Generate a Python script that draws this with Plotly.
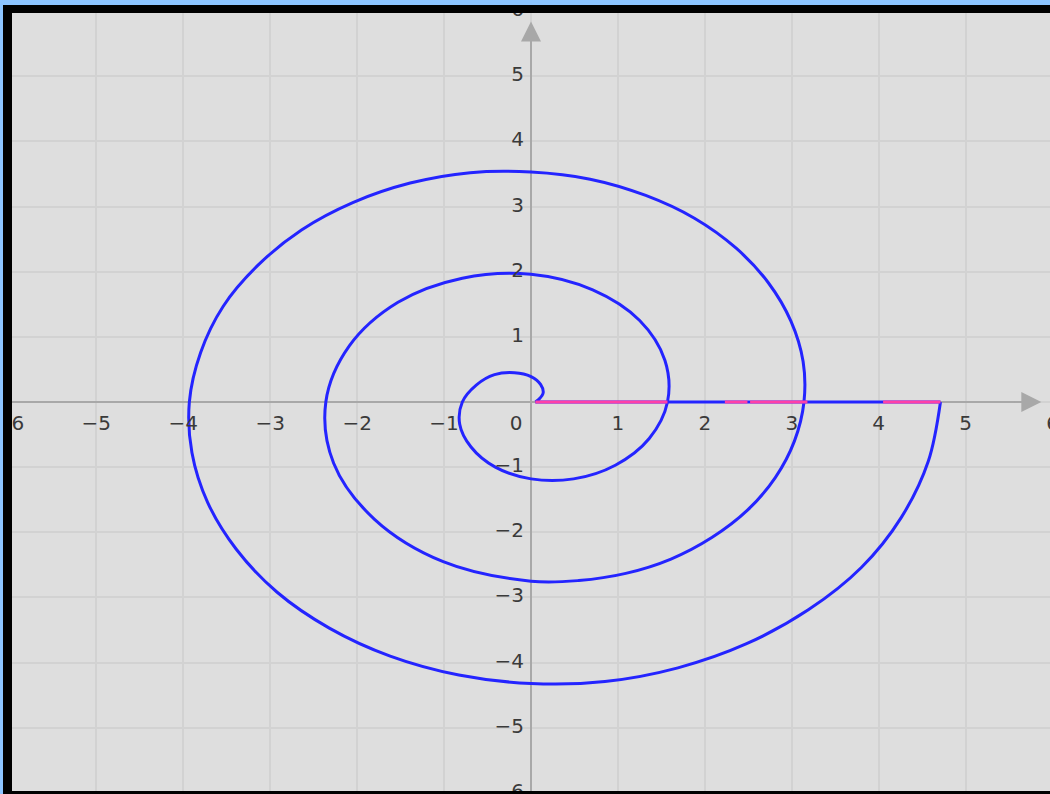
import plotly.graph_objects as go

# Spiral points (every 1/16 turn, every 1/32 turn on the outer part)
spiral_x = [0.05, 0.09, 0.14, 0.11, 0.00, -0.19, -0.42, -0.63, -0.79, -0.82, -0.69, -0.41,
            0.00, 0.49, 0.97, 1.36, 1.57, 1.54, 1.25, 0.71, 0.00, -0.79, -1.53, -2.09,
            -2.36, -2.27, -1.80, -1.01,
            0.00, 0.55, 1.09, 1.61, 2.08, 2.49, 2.81, 3.03,
            3.14, 3.13, 2.99, 2.73, 2.36, 1.88, 1.32, 0.68,
            0.00, -0.70, -1.39, -2.05, -2.64, -3.14, -3.54, -3.80,
            -3.93, -3.90, -3.72, -3.39, -2.92, -2.32, -1.62, -0.83,
            0.00, 0.85, 1.69, 2.48, 3.19, 3.80, 4.26, 4.57, 4.71]
spiral_y = [0.00, 0.04, 0.14, 0.27, 0.39, 0.45, 0.42, 0.26, 0.00, -0.34, -0.69, -1.00,
            -1.18, -1.18, -0.97, -0.56, 0.00, 0.64, 1.25, 1.72, 1.96, 1.90, 1.53, 0.86,
            0.00, -0.94, -1.80, -2.45,
            -2.75, -2.74, -2.63, -2.41, -2.08, -1.66, -1.16, -0.60,
            0.00, 0.62, 1.24, 1.83, 2.36, 2.82, 3.17, 3.42,
            3.53, 3.52, 3.36, 3.06, 2.64, 2.10, 1.47, 0.76,
            0.00, -0.78, -1.54, -2.26, -2.92, -3.47, -3.90, -4.19,
            -4.32, -4.29, -4.08, -3.71, -3.19, -2.54, -1.77, -0.91, 0.00]

# Segment lying on the x axis (blue underneath, pink pieces on top)
base_seg_x = [0.05, 4.71]
base_seg_y = [0.0, 0.0]
pink_seg_x = [0.05, 1.57, None, 2.23, 2.49, None, 2.52, 3.18, None, 4.05, 4.71]
pink_seg_y = [0.0, 0.0, None, 0.0, 0.0, None, 0.0, 0.0, None, 0.0, 0.0]

# Tick labels
tick_vals = [-6, -5, -4, -3, -2, -1, 1, 2, 3, 4, 5, 6]
tick_text = ["−6", "−5", "−4", "−3", "−2", "−1", "1", "2", "3", "4", "5", "6"]

X_RANGE = [-5.97, 5.97]
Y_RANGE = [-5.97, 5.97]

fig = go.Figure()

fig.add_trace(go.Scatter(x=spiral_x, y=spiral_y, mode="lines",
                         line=dict(color="#2424ff", width=3, shape="spline", smoothing=1.0),
                         hoverinfo="skip"))
fig.add_trace(go.Scatter(x=base_seg_x, y=base_seg_y, mode="lines",
                         line=dict(color="#2424ff", width=3), hoverinfo="skip"))
fig.add_trace(go.Scatter(x=pink_seg_x, y=pink_seg_y, mode="lines",
                         line=dict(color="#ff40a8", width=3), connectgaps=False,
                         hoverinfo="skip"))

label_font = dict(family="DejaVu Sans", size=20, color="#3a3a3a")

# x tick labels (below the x axis)
fig.add_trace(go.Scatter(x=tick_vals + [-0.17], y=[-0.36] * len(tick_vals) + [-0.36],
                         mode="text", text=tick_text + ["0"], textfont=label_font,
                         textposition="middle center", hoverinfo="skip", cliponaxis=True))
# y tick labels (left of the y axis)
fig.add_trace(go.Scatter(x=[-0.08] * len(tick_vals), y=tick_vals,
                         mode="text", text=tick_text, textfont=label_font,
                         textposition="middle left", hoverinfo="skip", cliponaxis=True))

shapes = [
    # axis lines
    dict(type="line", xref="x", yref="y", x0=X_RANGE[0], x1=5.6, y0=0, y1=0,
         line=dict(color="#a8a8a8", width=2), layer="between"),
    dict(type="line", xref="x", yref="y", x0=0, x1=0, y0=Y_RANGE[0], y1=5.5,
         line=dict(color="#a8a8a8", width=2), layer="between"),
    # screenshot frame strips
    dict(type="rect", xref="paper", yref="paper", x0=-13 / 1038, x1=1.01,
         y0=1 + 8 / 778, y1=1 + 14 / 778, fillcolor="#8cc4ff", line_width=0, layer="above"),
    dict(type="rect", xref="paper", yref="paper", x0=-13 / 1038, x1=-9 / 1038,
         y0=-4 / 778, y1=1 + 14 / 778, fillcolor="#8cc4ff", line_width=0, layer="above"),
]

annotations = [
    dict(x=5.87, y=0, ax=5.55, ay=0, xref="x", yref="y", axref="x", ayref="y",
         showarrow=True, arrowhead=2, arrowsize=2.0, arrowwidth=2, arrowcolor="#a8a8a8", text=""),
    dict(x=0, y=5.84, ax=0, ay=5.4, xref="x", yref="y", axref="x", ayref="y",
         showarrow=True, arrowhead=2, arrowsize=2.0, arrowwidth=2, arrowcolor="#a8a8a8", text=""),
]

fig.update_layout(
    width=1050, height=794,
    margin=dict(l=12, r=0, t=13, b=3, pad=0),
    paper_bgcolor="#000000",
    plot_bgcolor="#dedede",
    showlegend=False,
    shapes=shapes,
    annotations=annotations,
    xaxis=dict(range=X_RANGE, dtick=1, tick0=0, showgrid=True, gridcolor="#d2d2d2",
               gridwidth=2, zeroline=False, showticklabels=False, showline=False,
               ticks="", fixedrange=True),
    yaxis=dict(range=Y_RANGE, dtick=1, tick0=0, showgrid=True, gridcolor="#d2d2d2",
               gridwidth=2, zeroline=False, showticklabels=False, showline=False,
               ticks="", fixedrange=True),
)

fig.write_html("out.html", config={"displayModeBar": False},
               post_script="document.body.style.margin='0';"
                           "document.body.style.overflow='hidden';"
                           "document.body.style.background='#8cc4ff';")
